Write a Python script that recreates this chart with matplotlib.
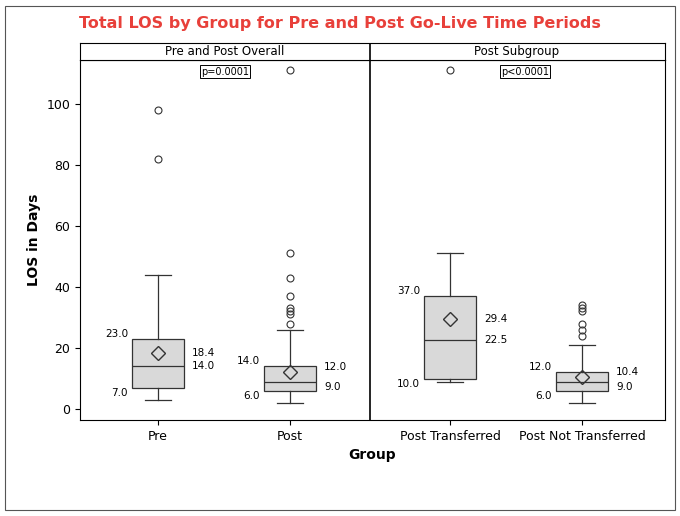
import matplotlib
matplotlib.use("Agg")
import matplotlib.pyplot as plt
from matplotlib.patches import Rectangle

groups = ["Pre", "Post", "Post Transferred", "Post Not Transferred"]
q1 = [7.0, 6.0, 10.0, 6.0]
med = [14.0, 9.0, 22.5, 9.0]
q3 = [23.0, 14.0, 37.0, 12.0]
mean = [18.4, 12.0, 29.4, 10.4]
wlo = [3, 2, 9, 2]
whi = [44, 26, 51, 21]
fliers = [[82, 98], [28, 31, 32, 33, 37, 43, 51, 111], [111], [24, 26, 28, 32, 33, 34]]
pos = [78, 210, 370, 502]
panels = ["Pre and Post Overall", "Post Subgroup"]
pvals = ["p=0.0001", "p<0.0001"]

fig = plt.figure(figsize=(6.8, 5.16), dpi=100)
fig.patches.append(Rectangle((5/680, 6/516), 670/680, 504/516, transform=fig.transFigure,
                             fill=False, ec="#555555", lw=0.8))
fig.text(0.5, 0.955, "Total LOS by Group for Pre and Post Go-Live Time Periods",
         ha="center", va="center", color="#e8403a", fontsize=11.5, fontweight="bold")

ax = fig.add_axes([80/680, 96/516, 585/680, 360/516])
hx = fig.add_axes([80/680, 456/516, 585/680, 17/516])
stats = []
for i in range(4):
    stats.append(dict(med=med[i], q1=q1[i], q3=q3[i], whislo=wlo[i], whishi=whi[i],
                      fliers=fliers[i], mean=mean[i]))
ax.bxp(stats, positions=pos, widths=52, showmeans=True, patch_artist=True,
       boxprops=dict(facecolor="#d9d9d9", edgecolor="#333333", lw=0.9),
       medianprops=dict(color="#333333", lw=0.9),
       whiskerprops=dict(color="#333333", lw=0.9),
       capprops=dict(color="#333333", lw=0.9),
       flierprops=dict(marker="o", mfc="none", mec="#333333", ms=5, mew=0.8),
       meanprops=dict(marker="D", mfc="none", mec="#333333", ms=7, mew=1.0))
for i in range(4):
    ax.text(pos[i]-30, q3[i], f"{q3[i]:.1f}", ha="right", va="bottom", fontsize=7.5)
    ax.text(pos[i]-30, q1[i], f"{q1[i]:.1f}", ha="right", va="top", fontsize=7.5)
    close = abs(mean[i] - med[i]) < 4
    ax.text(pos[i]+34, mean[i], f"{mean[i]:.1f}", ha="left",
            va="bottom" if close else "center", fontsize=7.5)
    ax.text(pos[i]+34, med[i], f"{med[i]:.1f}", ha="left",
            va="top" if close else "center", fontsize=7.5)
ax.axvline(290, color="black", lw=1.2)
ax.set_xlim(0, 585)
ax.set_ylim(-3.6, 114.4)
ax.set_xticks(pos)
ax.set_xticklabels(groups, fontsize=9)
ax.set_yticks([0, 20, 40, 60, 80, 100])
ax.tick_params(labelsize=9)
ax.set_xlabel("Group", fontsize=10, fontweight="bold")
ax.set_ylabel("LOS in Days", fontsize=10, fontweight="bold")
for xp, t in zip([145, 445], pvals):
    ax.text(xp, 110.6, t, ha="center", va="center", fontsize=7,
            bbox=dict(boxstyle="square,pad=0.15", fc="white", ec="black", lw=0.7))
hx.set_xlim(0, 585); hx.set_ylim(0, 1)
hx.set_xticks([]); hx.set_yticks([])
hx.axvline(290, color="black", lw=1.2)
hx.text(145, 0.5, panels[0], ha="center", va="center", fontsize=8.5)
hx.text(437, 0.5, panels[1], ha="center", va="center", fontsize=8.5)
fig.savefig("out.png", dpi=100)
